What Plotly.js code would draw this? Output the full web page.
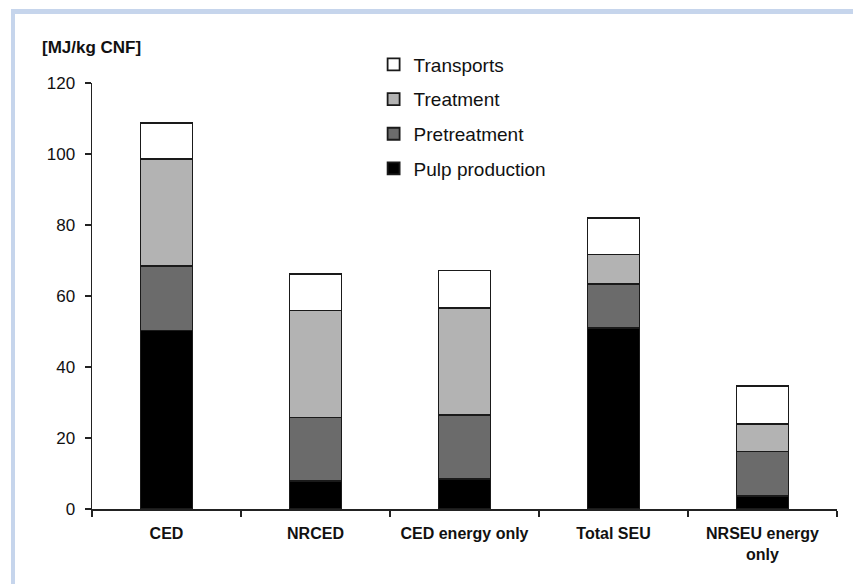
<!DOCTYPE html>
<html>
<head>
<meta charset="utf-8">
<script src="https://cdn.plot.ly/plotly-3.0.1.min.js"></script>
<style>
  html, body { margin: 0; padding: 0; background: #ffffff; }
  #wrap { position: relative; width: 853px; height: 584px; overflow: hidden; }
  #chart { position: absolute; left: 0; top: 0; width: 853px; height: 584px; }
  .band { position: absolute; background: #c6d5ec; }
</style>
</head>
<body>
<div id="wrap">
  <div id="chart"></div>
  <div class="band" style="left:11px; top:9px; width:842px; height:5px;"></div>
  <div class="band" style="left:11px; top:9px; width:4px; height:575px;"></div>
</div>
<script>
const categories = ["CED", "NRCED", "CED energy only", "Total SEU", "NRSEU energy<br>only"];
const pulpProduction = [50.3, 7.8, 8.4, 51.1, 3.7];
const pretreatment   = [18.1, 18.0, 18.0, 12.3, 12.5];
const treatment      = [30.1, 30.1, 30.3, 8.3, 7.8];
const transports     = [10.3, 10.3, 10.5, 10.3, 10.7];
const seriesNames  = ["Pulp production", "Pretreatment", "Treatment", "Transports"];
const seriesColors = ["#000000", "#6b6b6b", "#b3b3b3", "#ffffff"];
const yTicks = [0, 20, 40, 60, 80, 100, 120];
const yAxisLabel = "[MJ/kg CNF]";

const seriesValues = [pulpProduction, pretreatment, treatment, transports];
const traces = seriesValues.map((vals, i) => ({
  type: "bar",
  name: seriesNames[i],
  x: categories,
  y: vals,
  width: 0.35,
  legendgroup: "g" + i,
  legendrank: 1000 - i,
  marker: { color: seriesColors[i], line: { color: "#1a1a1a", width: 1.8 } },
  hoverinfo: "x+y+name"
}));

const layout = {
  width: 853,
  height: 584,
  margin: { l: 92, r: 16, t: 83, b: 74.5 },
  paper_bgcolor: "#ffffff",
  plot_bgcolor: "#ffffff",
  barmode: "stack",
  showlegend: true,
  legend: {
    x: 0.378, y: 1.088, xanchor: "left", yanchor: "top",
    traceorder: "grouped",
    tracegroupgap: 7,
    font: { family: "Liberation Sans, Arial, sans-serif", size: 19, color: "#111111" },
    bgcolor: "rgba(0,0,0,0)"
  },
  font: { family: "Liberation Sans, Arial, sans-serif", color: "#111111" },
  xaxis: {
    type: "category",
    tickson: "boundaries",
    ticks: "outside",
    ticklen: 6,
    tickwidth: 1.5,
    tickcolor: "#222222",
    showline: true,
    linecolor: "#222222",
    linewidth: 1.5,
    showgrid: false,
    zeroline: false,
    ticklabelstandoff: 9,
    tickfont: { family: "Liberation Sans, Arial, sans-serif", size: 16, color: "#111111", weight: "bold" },
    fixedrange: true
  },
  yaxis: {
    range: [0, 120],
    tickvals: yTicks,
    ticktext: yTicks.map(String),
    ticks: "outside",
    ticklen: 6,
    tickwidth: 1.5,
    tickcolor: "#222222",
    showline: true,
    linecolor: "#222222",
    linewidth: 1.5,
    showgrid: false,
    zeroline: false,
    tickfont: { family: "Liberation Sans, Arial, sans-serif", size: 17, color: "#111111" },
    ticklabelstandoff: 6,
    fixedrange: true
  },
  annotations: [{
    text: yAxisLabel,
    xref: "paper", yref: "paper",
    x: -0.07, y: 1.084,
    xanchor: "left", yanchor: "middle",
    showarrow: false,
    font: { family: "Liberation Sans, Arial, sans-serif", size: 17, color: "#111111", weight: "bold" }
  }]
};

Plotly.newPlot("chart", traces, layout, { displayModeBar: false, staticPlot: true });
</script>
</body>
</html>
